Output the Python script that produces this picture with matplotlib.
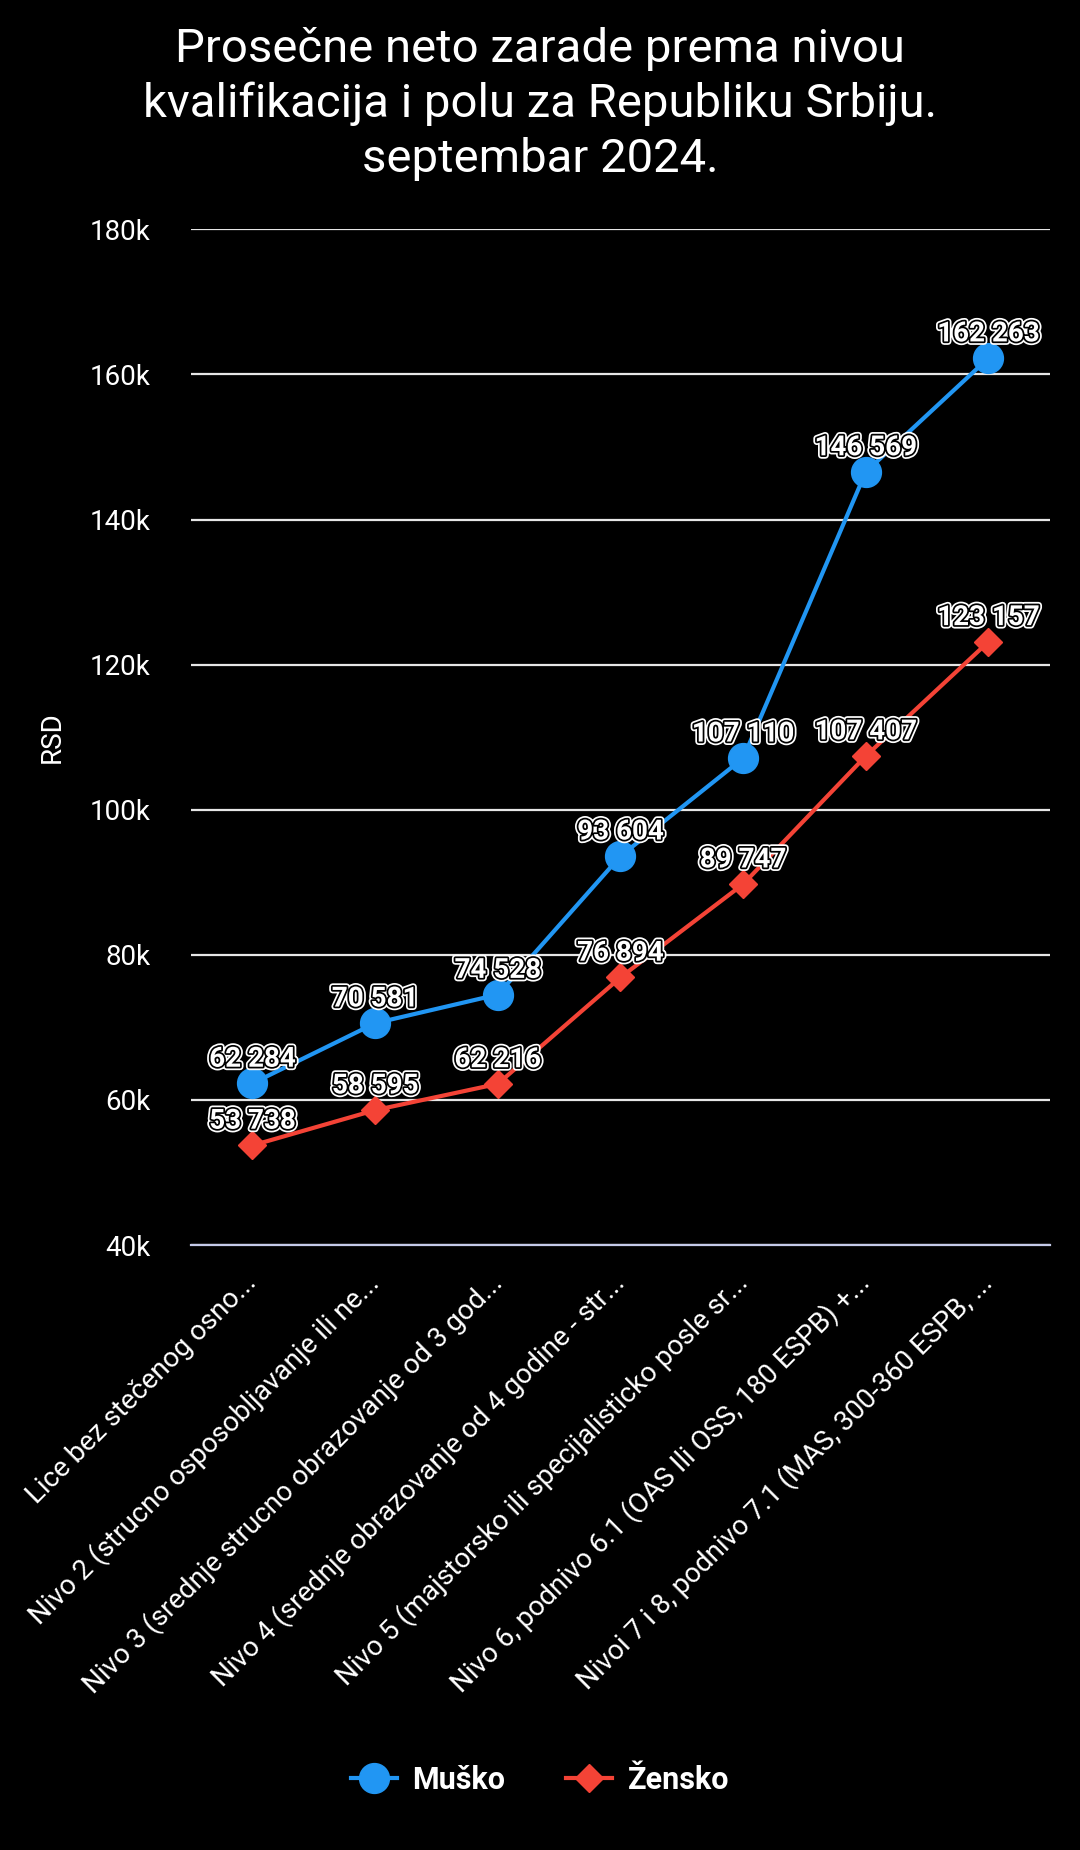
import matplotlib
matplotlib.use('Agg')
import matplotlib.pyplot as plt
import matplotlib.patheffects as pe
from matplotlib.ticker import FuncFormatter

plt.rcParams['font.family'] = ['Roboto', 'DejaVu Sans']

title_lines = ['Prosečne neto zarade prema nivou',
               'kvalifikacija i polu za Republiku Srbiju.',
               'septembar 2024.']
categories = [
    'Lice bez stečenog osno...',
    'Nivo 2 (strucno osposobljavanje ili ne...',
    'Nivo 3 (srednje strucno obrazovanje od 3 god...',
    'Nivo 4 (srednje obrazovanje od 4 godine - str...',
    'Nivo 5 (majstorsko ili specijalisticko posle sr...',
    'Nivo 6, podnivo 6.1 (OAS Ili OSS, 180 ESPB) +...',
    'Nivoi 7 i 8, podnivo 7.1 (MAS, 300-360 ESPB, ...',
]
musko = [62284, 70581, 74528, 93604, 107110, 146569, 162263]
zensko = [53738, 58595, 62216, 76894, 89747, 107407, 123157]
yticks = [40000, 60000, 80000, 100000, 120000, 140000, 160000, 180000]

BLUE = '#2196F3'
RED = '#F44336'


def fmt_num(v):
    return f'{v:,}'.replace(',', ' ')


def main():
    fig = plt.figure(figsize=(10.8, 18.5), dpi=100, facecolor='black')
    ax = fig.add_axes([0.177, 0.327, 0.795, 0.549])
    ax.set_facecolor('black')

    x = list(range(len(categories)))
    ax.plot(x, musko, color=BLUE, linewidth=3, marker='o', markersize=21.5,
            label='Muško', zorder=3)
    ax.plot(x, zensko, color=RED, linewidth=3, marker='D', markersize=14,
            label='Žensko', zorder=3)

    effects = [pe.Stroke(linewidth=5, foreground='white'),
               pe.Stroke(linewidth=2.5, foreground='black'),
               pe.Normal()]
    for series in (musko, zensko):
        for xi, v in zip(x, series):
            ax.annotate(fmt_num(v), (xi, v), xytext=(0, 12), textcoords='offset points',
                        ha='center', va='baseline', color='white', fontsize=20,
                        fontweight='bold', path_effects=effects, zorder=5)

    ax.set_xlim(-0.5, len(categories) - 0.5)
    ax.set_ylim(40000, 180000)
    ax.set_yticks(yticks)
    ax.yaxis.set_major_formatter(FuncFormatter(lambda v, p: f'{int(v / 1000)}k'))
    ax.grid(True, axis='y', color='#e6e6e6', linewidth=1.6, zorder=1)
    for s in ('top', 'right', 'left'):
        ax.spines[s].set_visible(False)
    ax.spines['bottom'].set_color('#c5cae9')
    ax.spines['bottom'].set_linewidth(1.6)

    ax.set_xticks(x)
    ax.set_xticklabels(categories, rotation=45, ha='right', va='center',
                       rotation_mode='anchor')
    ax.tick_params(axis='x', length=0, pad=24, labelsize=20, labelcolor='white')
    ax.tick_params(axis='y', length=0, pad=29, labelsize=20, labelcolor='white')

    ax.set_ylabel('RSD', color='white', fontsize=20)
    ax.yaxis.set_label_coords(-0.146, 0.5)

    for i, line in enumerate(title_lines):
        fig.text(0.5, 0.9665 - i * 0.0297, line, ha='center', va='baseline',
                 color='white', fontsize=34)

    leg = fig.legend(loc='center', bbox_to_anchor=(0.5, 0.038), ncol=2, frameon=False,
                     prop={'weight': 'bold', 'size': 22}, handlelength=1.5,
                     columnspacing=2.0, handletextpad=0.5)
    for t in leg.get_texts():
        t.set_color('white')

    fig.savefig('out.png', facecolor='black')


if __name__ == "__main__":
    main()
